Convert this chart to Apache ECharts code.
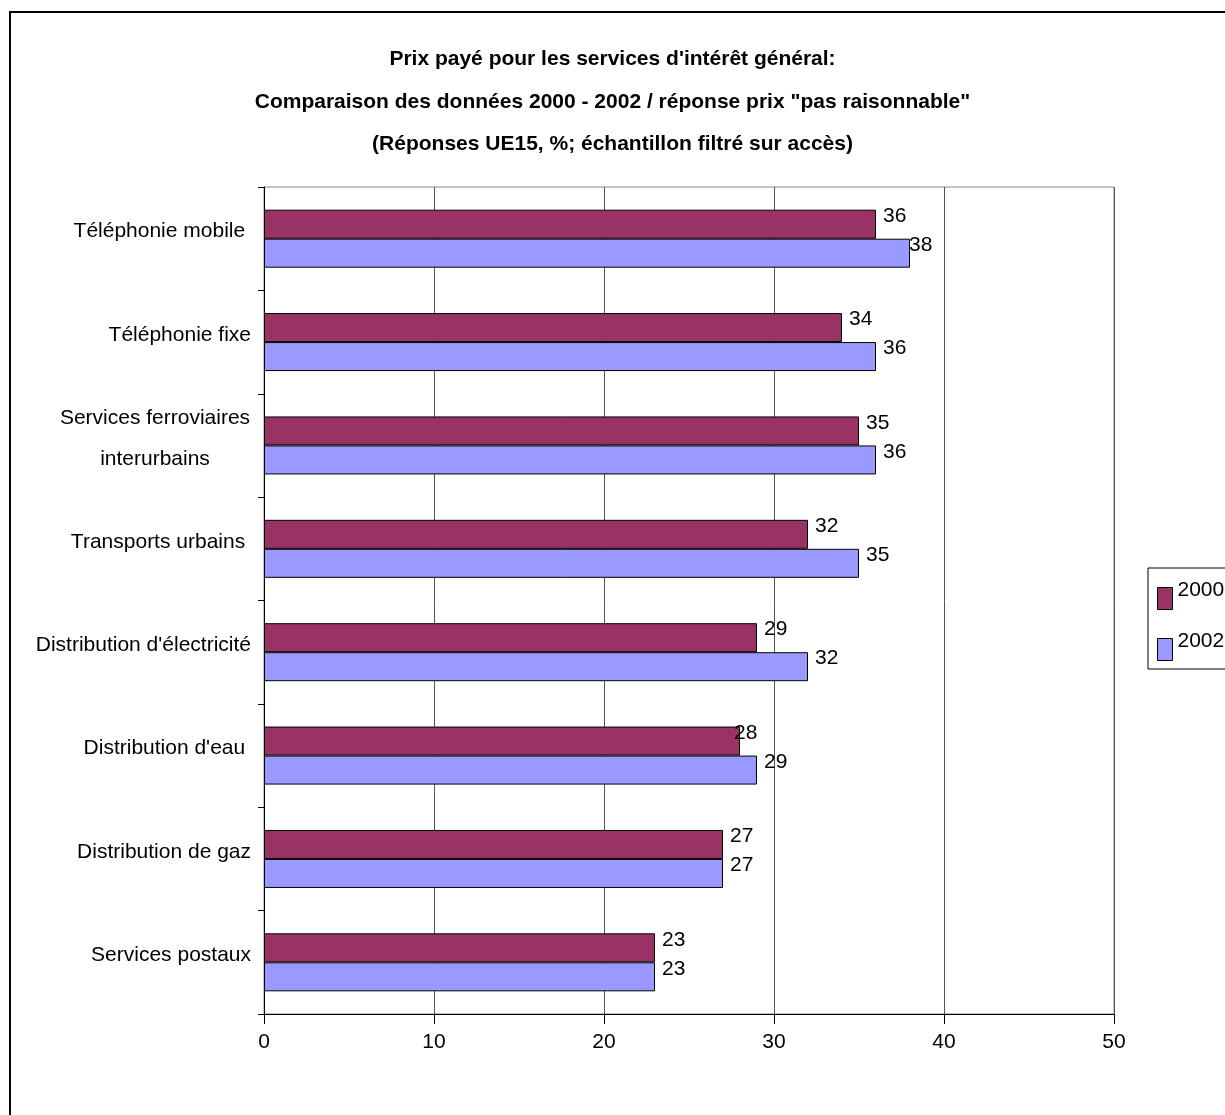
<!DOCTYPE html>
<html>
<head>
<meta charset="utf-8">
<script src="https://cdn.jsdelivr.net/npm/echarts@6/dist/echarts.min.js"></script>
<style>
  html, body { margin: 0; padding: 0; background: #fff; }
  #chart { width: 1225px; height: 1115px; }
</style>
</head>
<body>
<div id="chart"></div>
<script>
const categories = [
  'Téléphonie mobile ',
  'Téléphonie fixe',
  'Services ferroviaires\ninterurbains',
  'Transports urbains ',
  "Distribution d'électricité",
  "Distribution d'eau ",
  'Distribution de gaz',
  'Services postaux'
];
const values2000 = [36, 34, 35, 32, 29, 28, 27, 23];
const values2002 = [38, 36, 36, 35, 32, 29, 27, 23];
const seriesNames = ['2000', '2002'];
const xTicks = [0, 10, 20, 30, 40, 50];

const titleLines = [
  "Prix payé pour les services d'intérêt général:",
  'Comparaison des données 2000 - 2002 / réponse prix "pas raisonnable"',
  '(Réponses UE15, %; échantillon filtré sur accès)'
];

const FONT = 'Liberation Sans, Arial, sans-serif';
const FS = 21;
const colors = ['#993366', '#9999FF'];

// a couple of Excel labels sit on top of the bar end
const labelNudge = { '1-0': -8, '0-5': -13 };

const chart = echarts.init(document.getElementById('chart'), null, { renderer: 'canvas' });

const makeSeries = (si, values) => ({
  name: seriesNames[si],
  type: 'bar',
  data: values.map((v, i) => {
    const dx = labelNudge[si + '-' + i];
    return dx ? { value: v, label: { offset: [dx, -8] } } : v;
  }),
  barWidth: 29,
  barGap: '0%',
  itemStyle: { color: colors[si], borderColor: '#000', borderWidth: 1 },
  label: {
    show: true,
    position: 'right',
    distance: 7,
    offset: [0, -8],
    color: '#000',
    fontSize: FS,
    fontFamily: FONT
  },
  emphasis: { disabled: true },
  silent: true
});

const option = {
  animation: false,
  backgroundColor: '#fff',
  textStyle: { fontFamily: FONT },
  title: {
    text: titleLines.join('\n'),
    left: 'center',
    top: 38,
    padding: 0,
    textStyle: {
      fontFamily: FONT,
      fontSize: FS,
      fontWeight: 'bold',
      color: '#000',
      lineHeight: 42.5
    }
  },
  graphic: [{
    type: 'rect',
    shape: { x: 10, y: 12, width: 1400, height: 1300 },
    style: { fill: 'none', stroke: '#000', lineWidth: 2 },
    silent: true,
    z: -10
  }],
  legend: {
    orient: 'vertical',
    left: 1148,
    top: 568,
    data: seriesNames,
    itemWidth: 15,
    itemHeight: 22,
    itemGap: 21,
    padding: [12, 40, 8, 9],
    borderColor: '#000',
    borderWidth: 1,
    icon: 'rect',
    itemStyle: { borderColor: '#000', borderWidth: 1 },
    formatter: '{t|{name}}',
    textStyle: {
      fontSize: FS,
      fontFamily: FONT,
      color: '#000',
      rich: { t: { fontSize: FS, fontFamily: FONT, color: '#000', padding: [0, 0, 16, 0] } }
    }
  },
  grid: {
    left: 264,
    top: 187,
    width: 850,
    height: 827,
    show: true,
    borderColor: '#888',
    borderWidth: 1,
    containLabel: false
  },
  xAxis: {
    type: 'value',
    min: xTicks[0],
    max: xTicks[xTicks.length - 1],
    interval: 10,
    axisLine: { show: true, lineStyle: { color: '#000', width: 1 } },
    axisTick: { show: true, length: 10, lineStyle: { color: '#000' } },
    axisLabel: { color: '#000', fontSize: FS, fontFamily: FONT, margin: 18 },
    splitLine: { show: true, lineStyle: { color: '#555', width: 1 } }
  },
  yAxis: {
    type: 'category',
    data: categories,
    inverse: true,
    axisLine: { show: true, lineStyle: { color: '#000', width: 1 } },
    axisTick: { show: true, length: 6, lineStyle: { color: '#000' } },
    axisLabel: {
      color: '#000',
      fontSize: FS,
      fontFamily: FONT,
      margin: 13,
      lineHeight: 41,
      padding: [0, 0, 14, 0],
      formatter: (v) => {
        if (v.indexOf('\n') < 0) return v;
        return v.split('\n').map((s) => '{c|' + s + '}').join('\n');
      },
      rich: {
        c: { width: 192, align: 'center', fontSize: FS, fontFamily: FONT, lineHeight: 41, color: '#000' }
      }
    },
    splitLine: { show: false }
  },
  series: [
    makeSeries(0, values2000),
    makeSeries(1, values2002)
  ]
};

chart.setOption(option);
</script>
</body>
</html>
